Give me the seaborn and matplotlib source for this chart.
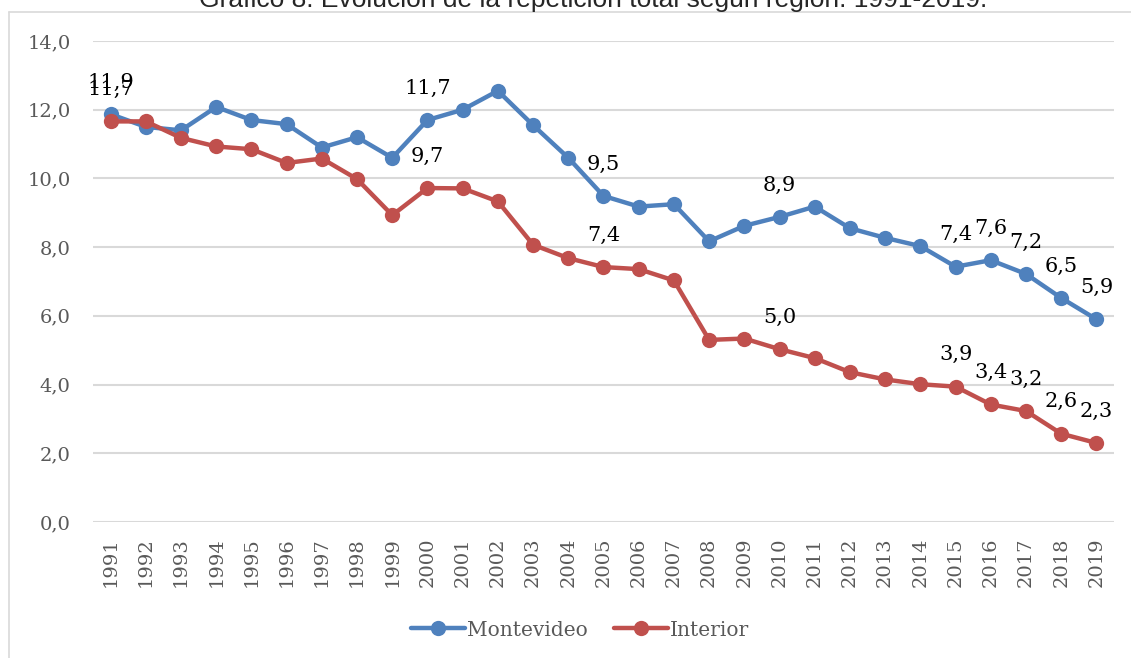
import pandas as pd
import numpy as np
import seaborn as sns
import matplotlib.pyplot as plt
from matplotlib.lines import Line2D

# data
years = list(range(1991, 2020))
montevideo = [11.87, 11.50, 11.40, 12.08, 11.70, 11.58, 10.90, 11.20, 10.60, 11.70,
              12.00, 12.55, 11.55, 10.60, 9.49, 9.18, 9.25, 8.17, 8.62, 8.88,
              9.18, 8.55, 8.27, 8.03, 7.43, 7.62, 7.22, 6.52, 5.90]
interior = [11.66, 11.66, 11.18, 10.93, 10.85, 10.45, 10.58, 9.98, 8.93, 9.72,
            9.71, 9.33, 8.07, 7.68, 7.42, 7.36, 7.03, 5.30, 5.34, 5.03,
            4.77, 4.36, 4.15, 4.01, 3.94, 3.42, 3.23, 2.57, 2.30]
labeled_years = [1991, 2000, 2005, 2010, 2015, 2016, 2017, 2018, 2019]
series_names = ["Montevideo", "Interior"]
colors = {"Montevideo": "#4F81BD", "Interior": "#C0504D"}
title = "Gráfico 8. Evolución de la repetición total según región. 1991-2019."

df = pd.DataFrame({
    "year": years * 2,
    "value": montevideo + interior,
    "region": ["Montevideo"] * len(years) + ["Interior"] * len(years),
})

sns.set_style("white")
plt.rcParams["font.family"] = ["DejaVu Serif"]

fig = plt.figure(figsize=(11.31, 6.58), dpi=100)
ax = fig.add_axes([93 / 1131, 1 - 522 / 658, (1114 - 93) / 1131, (522 - 41) / 658])

sns.lineplot(data=df, x="year", y="value", hue="region", hue_order=series_names,
             palette=colors, marker="o", markersize=11, markeredgewidth=0,
             linewidth=3.2, legend=False, ax=ax)

ax.set_xlim(1990.5, 2019.5)
ax.set_ylim(0, 14)
ax.set_yticks(np.arange(0, 15, 2))
ax.set_yticklabels([f"{v:.1f}".replace(".", ",") for v in np.arange(0, 15, 2)])
ax.set_xticks(years)
ax.set_xticklabels([str(y) for y in years], rotation=90)
ax.tick_params(axis="both", length=0, labelsize=14, labelcolor="#595959")
ax.tick_params(axis="y", pad=16)
ax.tick_params(axis="x", pad=11)
ax.set_xlabel("")
ax.set_ylabel("")
ax.grid(axis="y", color="#D9D9D9", linewidth=1.5)
ax.set_axisbelow(True)
for s in ax.spines.values():
    s.set_visible(False)

# data labels
for name, vals in [("Montevideo", montevideo), ("Interior", interior)]:
    for y in labeled_years:
        v = vals[years.index(y)]
        ax.annotate(f"{v:.1f}".replace(".", ","), (y, v), xytext=(0, 23),
                    textcoords="offset points", ha="center", va="center",
                    fontsize=15, color="black")

# legend
handles = [Line2D([0], [0], color=colors[n], linewidth=3.2, marker="o",
                  markersize=11, markeredgewidth=0) for n in series_names]
leg = fig.legend(handles, series_names, loc="center", ncol=2,
                 bbox_to_anchor=(580 / 1131, 1 - 630 / 658), frameon=False,
                 fontsize=14.5, handlelength=2.7, columnspacing=1.3,
                 handletextpad=0.1)
for t in leg.get_texts():
    t.set_color("#595959")

# chart border and clipped title
fig.add_artist(Line2D([9 / 1131, 9 / 1131], [0, 1 - 12 / 658], color="#D9D9D9",
                      linewidth=1.2, transform=fig.transFigure))
fig.add_artist(Line2D([9 / 1131, 1], [1 - 12 / 658, 1 - 12 / 658], color="#D9D9D9",
                      linewidth=1.2, transform=fig.transFigure))
fig.text(593 / 1131, 1 - 7 / 658, title, ha="center", va="baseline",
         fontsize=19, family=["Liberation Sans", "DejaVu Sans"], color="#262626")

fig.savefig("out.png", dpi=100)
